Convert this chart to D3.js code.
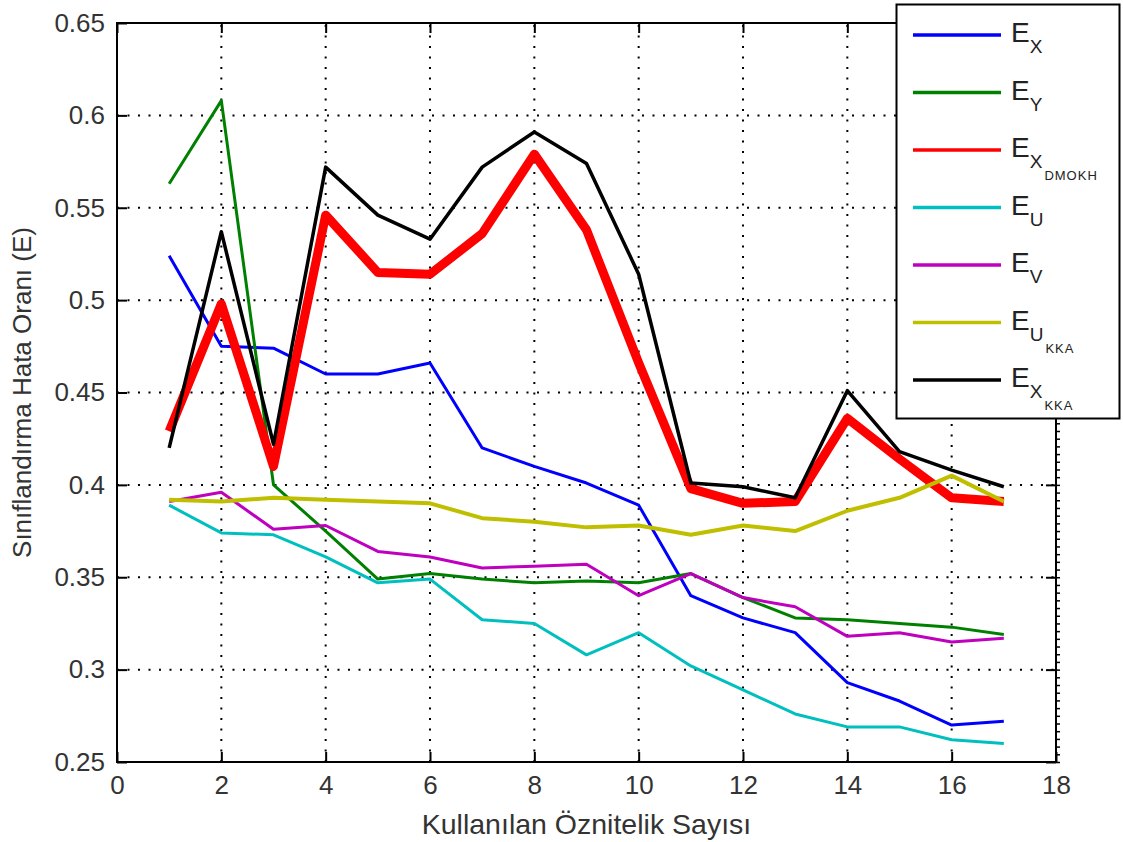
<!DOCTYPE html>
<html>
<head>
<meta charset="utf-8">
<script src="https://cdn.jsdelivr.net/npm/d3@7"></script>
<style>
  body { margin: 0; background: #fff; }
  svg { font-family: "Liberation Sans", Arial, sans-serif; }
</style>
</head>
<body>
<svg id="chart"></svg>
<script>
// number of features used (x axis)
const features = d3.range(1, 18);

// classification error per series
const eX = [0.524, 0.475, 0.474, 0.460, 0.460, 0.466, 0.420, 0.410, 0.401, 0.389, 0.340, 0.328, 0.320, 0.293, 0.283, 0.270, 0.272];
const eY = [0.563, 0.608, 0.400, 0.375, 0.349, 0.352, 0.349, 0.347, 0.348, 0.347, 0.352, 0.339, 0.328, 0.327, 0.325, 0.323, 0.319];
const eXdmokh = [0.429, 0.498, 0.410, 0.546, 0.515, 0.514, 0.536, 0.579, 0.538, 0.466, 0.398, 0.390, 0.391, 0.436, 0.414, 0.393, 0.391];
const eU = [0.389, 0.374, 0.373, 0.361, 0.347, 0.349, 0.327, 0.325, 0.308, 0.320, 0.302, 0.289, 0.276, 0.269, 0.269, 0.262, 0.260];
const eV = [0.391, 0.396, 0.376, 0.378, 0.364, 0.361, 0.355, 0.356, 0.357, 0.340, 0.352, 0.339, 0.334, 0.318, 0.320, 0.315, 0.317];
const eUkka = [0.392, 0.391, 0.393, 0.392, 0.391, 0.390, 0.382, 0.380, 0.377, 0.378, 0.373, 0.378, 0.375, 0.386, 0.393, 0.405, 0.391];
const eXkka = [0.420, 0.537, 0.422, 0.572, 0.546, 0.533, 0.572, 0.591, 0.574, 0.514, 0.401, 0.399, 0.393, 0.451, 0.418, 0.408, 0.399];

// legend labels: main letter, subscript, sub-subscript
const seriesNames = [
  ['E', 'X', ''],
  ['E', 'Y', ''],
  ['E', 'X', 'DMOKH'],
  ['E', 'U', ''],
  ['E', 'V', ''],
  ['E', 'U', 'KKA'],
  ['E', 'X', 'KKA'],
];
const seriesValues = [eX, eY, eXdmokh, eU, eV, eUkka, eXkka];
const seriesColors = ['#0000ff', '#008000', '#ff0000', '#00bfbf', '#bf00bf', '#bfbf00', '#000000'];
const seriesWidths = [3, 3, 9, 3, 3, 4, 3.5];

const xTicks = d3.range(0, 19, 2);
const yTicks = d3.range(0.25, 0.651, 0.05);

const width = 1123, height = 842;
const margin = { top: 23, right: 67, bottom: 80, left: 117 };

const svg = d3.select('#chart').attr('width', width).attr('height', height);

const x = d3.scaleLinear().domain([0, 18]).range([margin.left, width - margin.right]);
const y = d3.scaleLinear().domain([0.25, 0.65]).range([height - margin.bottom, margin.top]);

// dotted grid
const grid = svg.append('g').attr('stroke', '#000').attr('stroke-width', 2).attr('stroke-dasharray', '2 8.5');
grid.selectAll('.gx').data(xTicks.slice(1, -1)).join('line')
  .attr('x1', d => x(d)).attr('x2', d => x(d))
  .attr('y1', y(0.25)).attr('y2', y(0.65));
grid.selectAll('.gy').data(yTicks.slice(1, -1)).join('line')
  .attr('x1', x(0)).attr('x2', x(18))
  .attr('y1', d => y(d)).attr('y2', d => y(d));

// series lines
const line = d3.line().x((d, i) => x(features[i])).y(d => y(d));
svg.append('g').selectAll('path').data(seriesValues).join('path')
  .attr('fill', 'none')
  .attr('stroke', (d, i) => seriesColors[i])
  .attr('stroke-width', (d, i) => seriesWidths[i])
  .attr('stroke-linejoin', 'round')
  .attr('d', line);

// axes (matlab style: ticks inside, box around)
const tickLen = 10;
const axisStyle = g => {
  g.select('.domain').remove();
  g.selectAll('.tick line').attr('stroke', '#000').attr('stroke-width', 2);
  g.selectAll('.tick text').attr('font-size', 26).attr('fill', '#333');
};

svg.append('g').attr('transform', `translate(0,${y(0.25)})`)
  .call(d3.axisBottom(x).tickValues(xTicks).tickSize(-tickLen).tickPadding(14).tickFormat(d3.format('d')))
  .call(axisStyle);
svg.append('g').attr('transform', `translate(0,${y(0.65)})`)
  .call(d3.axisTop(x).tickValues(xTicks).tickSize(-tickLen).tickFormat(''))
  .call(axisStyle);
svg.append('g').attr('transform', `translate(${x(0)},0)`)
  .call(d3.axisLeft(y).tickValues(yTicks).tickSize(-tickLen).tickPadding(12).tickFormat(d => +d.toFixed(2)))
  .call(axisStyle);
svg.append('g').attr('transform', `translate(${x(18)},0)`)
  .call(d3.axisRight(y).tickValues(yTicks).tickSize(-tickLen).tickFormat(''))
  .call(axisStyle);
// small minor ticks on the right edge
svg.append('g').attr('transform', `translate(${x(18)},0)`)
  .call(d3.axisRight(y).tickValues(d3.range(0.25, 0.65, 0.05 / 12)).tickSize(4).tickFormat(''))
  .call(g => { g.select('.domain').remove(); g.selectAll('.tick line').attr('stroke', '#000').attr('stroke-width', 1.5); });

svg.append('rect')
  .attr('x', x(0)).attr('y', y(0.65))
  .attr('width', x(18) - x(0)).attr('height', y(0.25) - y(0.65))
  .attr('fill', 'none').attr('stroke', '#000').attr('stroke-width', 2);

// axis titles
svg.append('text')
  .attr('x', (x(0) + x(18)) / 2).attr('y', 834)
  .attr('text-anchor', 'middle').attr('font-size', 28.5).attr('fill', '#333')
  .text('Kullanılan Öznitelik Sayısı');
svg.append('text')
  .attr('transform', `translate(31,${(y(0.25) + y(0.65)) / 2}) rotate(-90)`)
  .attr('text-anchor', 'middle').attr('font-size', 26).attr('fill', '#333')
  .text('Sınıflandırma Hata Oranı (E)');

// legend
const legend = svg.append('g');
legend.append('rect')
  .attr('x', 896.5).attr('y', 4.5).attr('width', 223).attr('height', 414)
  .attr('fill', '#fff').attr('stroke', '#000').attr('stroke-width', 2);

const ly = d3.scalePoint().domain(d3.range(seriesNames.length)).range([35, 380]);
const items = legend.selectAll('.legend-item').data(seriesNames).join('g')
  .attr('class', 'legend-item')
  .attr('transform', (d, i) => `translate(0,${ly(i)})`);
items.append('line')
  .attr('x1', 913).attr('x2', 1001)
  .attr('stroke', (d, i) => seriesColors[i]).attr('stroke-width', 3.5);
const label = items.append('text').attr('x', 1011).attr('y', 7).attr('fill', '#222');
label.append('tspan').attr('font-size', 28).text(d => d[0]);
label.append('tspan').attr('font-size', 19).attr('dy', 11).text(d => d[1]);
label.append('tspan').attr('font-size', 13).attr('dy', 12).attr('dx', 2).attr('letter-spacing', 1).text(d => d[2]);
</script>
</body>
</html>
